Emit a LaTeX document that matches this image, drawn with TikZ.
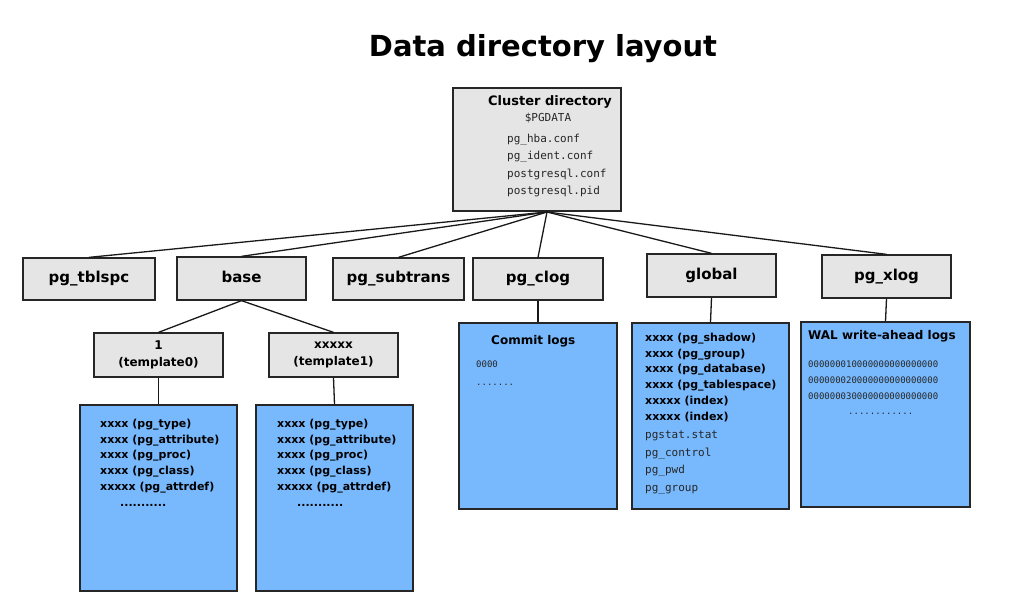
\documentclass[tikz,border=0pt]{standalone}
\usepackage{fontspec}
\setmainfont{DejaVu Sans}
\setmonofont{DejaVu Sans Mono}
\begin{document}
\begin{tikzpicture}[x=1pt,y=-1pt,
  gbox/.style={draw=black!85,line width=1.3pt,fill=black!10,inner sep=0pt,font=\bfseries\fontsize{15}{18}\selectfont,align=center},
  bbox/.style={draw=black!85,line width=1.3pt,fill=blueF,inner sep=0pt},
  btxt/.style={anchor=north west,inner sep=0pt,align=left,font=\bfseries\fontsize{11}{15.7}\selectfont},
  mtxt/.style={anchor=north west,inner sep=0pt,align=left,font=\ttfamily\fontsize{11}{17.5}\selectfont,text=black!85},
  conn/.style={line width=1.3pt,black!90}]
\definecolor{blueF}{HTML}{78B9FE}
\useasboundingbox (0,0) rectangle (1016,597);
\node (title) at (543,49) {\bfseries\fontsize{29}{34}\selectfont Data directory layout};
% cluster
\node[gbox,minimum width=168pt,minimum height=123pt] (cl) at (537,149.5) {};
\node[inner sep=0pt,font=\bfseries\fontsize{13}{15}\selectfont] (clt) at (550,102) {Cluster directory};
\node[inner sep=0pt,font=\ttfamily\fontsize{11}{13}\selectfont,text=black!85] (clp) at (548,118) {\$PGDATA};
\node[mtxt,font=\ttfamily\fontsize{11}{17.3}\selectfont] (clf) at (507,134) {pg\_hba.conf\\pg\_ident.conf\\postgresql.conf\\postgresql.pid};
\coordinate (cb) at (547,212);
% level 1
\node[gbox,minimum width=132pt,minimum height=42pt] (tbl) at (89,279) {pg\_tblspc};
\node[gbox,minimum width=129pt,minimum height=43pt] (base) at (241.5,278.5) {\raisebox{4pt}{base}};
\node[gbox,minimum width=131pt,minimum height=42pt] (sub) at (398.5,279) {pg\_subtrans};
\node[gbox,minimum width=130pt,minimum height=42pt] (clog) at (538,279) {pg\_clog};
\node[gbox,minimum width=129pt,minimum height=43pt] (glob) at (711.5,275.5) {global};
\node[gbox,minimum width=129pt,minimum height=43pt] (xlog) at (886.5,276.5) {pg\_xlog};
\foreach \n in {tbl,base,sub,clog,glob,xlog} \draw[conn] (cb) -- (\n.north);
% templates
\node[gbox,minimum width=129pt,minimum height=44pt,font=\bfseries\fontsize{12}{17}\selectfont] (t0) at (158.5,355) {1\\(template0)};
\node[gbox,minimum width=129pt,minimum height=44pt,font=\bfseries\fontsize{12}{17}\selectfont] (t1) at (333.5,355) {xxxxx\\(template1)};
\draw[conn] (base.south) -- (t0.north);
\draw[conn] (base.south) -- (t1.north);
% blue boxes
\node[bbox,minimum width=157pt,minimum height=186pt] (b0) at (158.5,498) {};
\node[bbox,minimum width=157pt,minimum height=186pt] (b1) at (334.5,498) {};
\node[bbox,minimum width=158pt,minimum height=186pt] (bc) at (538,416) {};
\node[bbox,minimum width=157pt,minimum height=186pt] (bg) at (710.5,416) {};
\node[bbox,minimum width=169pt,minimum height=185pt] (bx) at (885.5,414.5) {};
\draw[conn] (t0.south) -- (b0.north);
\draw[conn] (t1.south) -- (b1.north);
\draw[conn] (clog.south) -- (bc.north);
\draw[conn] (glob.south) -- (bg.north);
\draw[conn] (xlog.south) -- (bx.north);
\node[btxt] (b0t) at (100,419) {xxxx (pg\_type)\\xxxx (pg\_attribute)\\xxxx (pg\_proc)\\xxxx (pg\_class)\\xxxxx (pg\_attrdef)\\\hspace*{20pt}...........};
\node[btxt] (b1t) at (277,419) {xxxx (pg\_type)\\xxxx (pg\_attribute)\\xxxx (pg\_proc)\\xxxx (pg\_class)\\xxxxx (pg\_attrdef)\\\hspace*{20pt}...........};
\node[btxt,font=\bfseries\fontsize{12}{15}\selectfont] (bct) at (491,335) {Commit logs};
\node[mtxt,font=\ttfamily\fontsize{9}{17.5}\selectfont] (bcm) at (476,361) {0000\\.......};
\node[btxt] (bgt) at (645,333) {xxxx (pg\_shadow)\\xxxx (pg\_group)\\xxxx (pg\_database)\\xxxx (pg\_tablespace)\\xxxxx (index)\\xxxxx (index)};
\node[mtxt] (bgm) at (645,431) {pgstat.stat\\pg\_control\\pg\_pwd\\pg\_group};
\node[btxt,font=\bfseries\fontsize{12}{15}\selectfont] (bxt) at (808,330) {WAL write-ahead logs};
\node[mtxt,font=\ttfamily\fontsize{9}{15.7}\selectfont] (bxm) at (808,361) {000000010000000000000000\\000000020000000000000000\\000000030000000000000000\\\hspace*{40pt}............};
\end{tikzpicture}
\end{document}
